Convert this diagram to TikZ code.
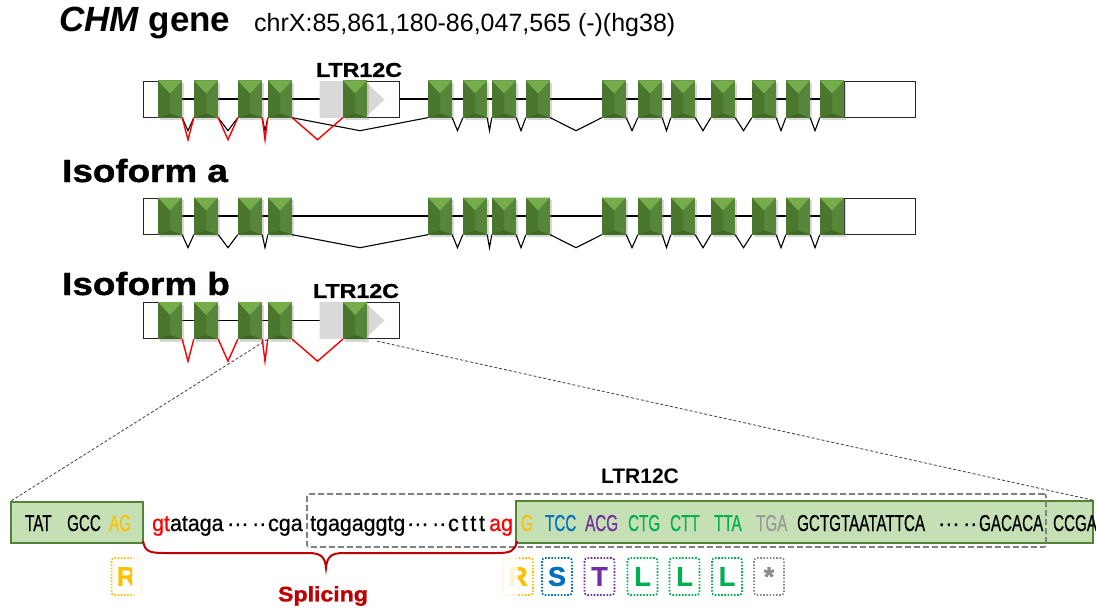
\documentclass[tikz,border=0pt]{standalone}
\usepackage{fontspec}
\setmainfont{Liberation Sans}
\newfontfamily\heavyfont{Liberation Sans}[BoldFeatures={FakeBold=1.2}]
\newfontfamily\seqfont{Liberation Sans}[FakeBold=0.7]
\usetikzlibrary{calc,shadows}
\pgfdeclarelayer{background}
\pgfsetlayers{background,main}

\definecolor{exmid}{HTML}{57863A}
\definecolor{exleft}{HTML}{4A772D}
\definecolor{exbottom}{HTML}{3E6724}
\definecolor{extop}{HTML}{74AD4A}
\definecolor{ltrgrey}{HTML}{D9D9D9}
\definecolor{seqfill}{HTML}{C5E0B4}
\definecolor{seqedge}{HTML}{548235}
\definecolor{aayellow}{HTML}{FFC000}
\definecolor{aablue}{HTML}{0070C0}
\definecolor{aapurple}{HTML}{7030A0}
\definecolor{aagreen}{HTML}{00B050}
\definecolor{aagrey}{HTML}{8C8C8C}
\definecolor{splred}{HTML}{C00000}

\newcommand\setfs[1]{\fontsize{#1}{#1}\selectfont}

\begin{document}
\begin{tikzpicture}[x=1pt, y=-1pt,
  utr/.style={draw=black!85, line width=0.9pt, fill=white, minimum height=36pt, inner sep=0pt},
  exon/.style={minimum width=24pt, minimum height=37pt, inner sep=0pt, fill=exmid,
    drop shadow={shadow xshift=1.5pt, shadow yshift=-2.5pt, opacity=0.3},
    path picture={
      \fill[exleft] (path picture bounding box.north west) -- ([yshift=-13pt]path picture bounding box.north)
        -- ([yshift=4pt]path picture bounding box.south) -- (path picture bounding box.south west) -- cycle;
      \fill[exbottom] (path picture bounding box.south west) -- ([yshift=4pt]path picture bounding box.south)
        -- (path picture bounding box.south east) -- cycle;
      \fill[extop] (path picture bounding box.north west) -- (path picture bounding box.north east)
        -- ([yshift=-13pt]path picture bounding box.north) -- cycle;
    }},
  intron/.style={line width=1.2pt, black},
  blackv/.style={line width=1.1pt, black},
  redv/.style={line width=1.4pt, red},
  rowtitle/.style={font=\heavyfont\bfseries\setfs{32}, anchor=base west, inner sep=0pt, xscale=1.15},
  ltrlab/.style={font=\heavyfont\bfseries\setfs{20}, inner sep=0pt, xscale=1.16},
  seqU/.style={font=\seqfont\setfs{23}, anchor=base west, inner sep=0pt, xscale=0.66},
  seqL/.style={font=\seqfont\setfs{23}, anchor=base west, inner sep=0pt, xscale=0.93},
  seqbox/.style={draw=seqedge, fill=seqfill, line width=1.3pt, inner sep=0pt},
  ltrframe/.style={draw=black!50, line width=1.6pt, dash pattern=on 6pt off 3pt, rounded corners=2pt, inner sep=0pt},
  zoomline/.style={draw=black!75, line width=0.8pt, dash pattern=on 3pt off 2pt},
  aabox/.style={draw=#1, line width=1.8pt, dash pattern=on 1.6pt off 1.6pt, rounded corners=3pt,
    minimum width=30pt, minimum height=37pt, inner sep=0pt, text=#1, font=\heavyfont\bfseries\setfs{27}},
]
\useasboundingbox (0,0) rectangle (1096,610);

% ---------- titles ----------
\node[anchor=base west, inner sep=0pt, font=\bfseries\setfs{35}] (title) at (59,32)
  {{\itshape CHM} gene};
\node[anchor=base west, inner sep=0pt, font=\setfs{25}] (locus) at (254,32)
  {chrX:85,861,180-86,047,565 (-)(hg38)};
\node[rowtitle] (isoA) at (62,182) {Isoform a};
\node[rowtitle] (isoB) at (62,295) {Isoform b};

% ---------- full gene ----------
\node[utr, minimum width=20pt] (r1L) at (153,99) {};
\node[utr, minimum width=71pt] (r1R) at (879.5,99) {};
\node[utr, minimum width=79pt] (r1ltr) at (359.5,99.5) {};
\fill[ltrgrey] (r1ltr.north west) -- ++(45,0) -- ($(r1ltr.west)+(65,0)$)
  -- ($(r1ltr.south west)+(45,0)$) -- (r1ltr.south west) -- cycle;
\node[ltrlab] (ltrA) at (359,70) {LTR12C};
\foreach \i/\x in {1/170,2/206,3/250,4/280,5/355,6/440,7/475,8/504,9/538,10/614,11/650,12/683,13/723,14/764,15/798,16/832}
  \node[exon] (r1e\i) at (\x,99) {};
\foreach \a/\b in {1/2,2/3,3/4,4/6,6/7,7/8,8/9,9/10,10/11,11/12,12/13,13/14,14/15,15/16}
  \draw[blackv] (r1e\a.south east) -- ($(r1e\a.south east)!0.5!(r1e\b.south west)+(0,13)$) -- (r1e\b.south west);
\foreach \a/\b in {1/2,2/3,3/4,4/5}
  \draw[redv] (r1e\a.south east) -- ($(r1e\a.south east)!0.5!(r1e\b.south west)+(0,22)$) -- (r1e\b.south west);

% ---------- isoform a ----------
\node[utr, minimum width=20pt] (r2L) at (153,216) {};
\node[utr, minimum width=71pt] (r2R) at (879.5,216) {};
\foreach \i/\x in {1/170,2/206,3/250,4/280,6/440,7/475,8/504,9/538,10/614,11/650,12/683,13/723,14/764,15/798,16/832}
  \node[exon] (r2e\i) at (\x,216) {};
\foreach \a/\b in {1/2,2/3,3/4,4/6,6/7,7/8,8/9,9/10,10/11,11/12,12/13,13/14,14/15,15/16}
  \draw[blackv] (r2e\a.south east) -- ($(r2e\a.south east)!0.5!(r2e\b.south west)+(0,13)$) -- (r2e\b.south west);

% ---------- isoform b ----------
\node[utr, minimum width=20pt] (r3L) at (153,320.5) {};
\node[utr, minimum width=79pt] (r3ltr) at (359.5,320.5) {};
\fill[ltrgrey] (r3ltr.north west) -- ++(45,0) -- ($(r3ltr.west)+(65,0)$)
  -- ($(r3ltr.south west)+(45,0)$) -- (r3ltr.south west) -- cycle;
\node[ltrlab] (ltrB) at (356,291) {LTR12C};
\foreach \i/\x in {1/170,2/206,3/250,4/280,5/355}
  \node[exon] (r3e\i) at (\x,320.5) {};
\foreach \a/\b in {1/2,2/3,3/4,4/5}
  \draw[redv] (r3e\a.south east) -- ($(r3e\a.south east)!0.5!(r3e\b.south west)+(0,22)$) -- (r3e\b.south west);

% ---------- sequence detail ----------
\node[seqbox, minimum width=132pt, minimum height=41pt] (seqA) at (77,522.5) {};
\node[seqbox, minimum width=577pt, minimum height=42pt] (seqB) at (804.5,522) {};
\node[ltrframe, minimum width=739pt, minimum height=53pt] (ltrFrame) at (676.5,520.5) {};
\node[font=\bfseries\setfs{21}, inner sep=0pt] (ltrC) at (640,476) {LTR12C};

\coordinate (zoomR) at ($(r3e5.south east)+(10,2)$);
\draw[zoomline] (r3e4.south west) -- (seqA.north west);
\draw[zoomline] (zoomR) -- (seqB.north east);

\node[seqU] (s1) at (25,531) {TAT};
\node[seqU] (s2) at (67,531) {GCC};
\node[seqU, text=aayellow] (s3) at (109,531) {AG};
\node[seqL] (s4) at (152,531) {{\color{red}gt}ataga};
\node[seqL] (s5) at (227,531) {···\,···};
\node[seqL] (s6) at (268,531) {cga};
\node[seqL] (s7) at (310,531) {tgagaggtg};
\node[seqL] (s8) at (407,531) {···\,···};
\node[seqL] (s9) at (448,531) {c\kern3pt t\kern3pt t\kern3pt t};
\node[seqL, text=red] (s10) at (489,531) {ag};
\node[seqU, text=aayellow] (c1) at (521,531) {G};
\node[seqU, text=aablue] (c2) at (545,531) {TCC};
\node[seqU, text=aapurple] (c3) at (585,531) {ACG};
\node[seqU, text=aagreen] (c4) at (628,531) {CTG};
\node[seqU, text=aagreen] (c5) at (670,531) {CTT};
\node[seqU, text=aagreen] (c6) at (714,531) {TTA};
\node[seqU, text=black!40] (c7) at (756,531) {TGA};
\node[seqU] (c8) at (797,531) {GCTGTAATATTCA};
\node[seqL] (c9) at (938,531) {···\,···};
\node[seqU] (c10) at (979,531) {GACACA};
\node[seqU] (c11) at (1053,531) {CCGA};

% splicing brace
\draw[splred, line width=2pt] (143,541) .. controls (145,552) and (150,553) .. (165,553)
  -- (308,553) .. controls (320,553) and (325,556) .. (326,568)
  .. controls (327,556) and (332,553) .. (344,553)
  -- (497,553) .. controls (511,553) and (515,551) .. (517,541);
\node[font=\heavyfont\bfseries\setfs{21}, text=splred, inner sep=0pt, xscale=1.1] (spl) at (323,596) {Splicing};

% amino acids
\node[aabox=aayellow] (aaR1) at (126.5,576.5) {R};
\fill[white, opacity=0.82] ($(aaR1.north east)+(-10,-2)$) rectangle ($(aaR1.south east)+(2,2)$);
\node[aabox=aayellow] (aaR2) at (518,576.5) {R};
\fill[white, opacity=0.82] ($(aaR2.north west)+(-2,-2)$) rectangle ($(aaR2.south west)+(16,2)$);
\node[aabox=aablue] (aaS) at (557,576.5) {S};
\node[aabox=aapurple] (aaT) at (599.5,576.5) {T};
\node[aabox=aagreen] (aaL1) at (642.5,576.5) {L};
\node[aabox=aagreen] (aaL2) at (684.5,576.5) {L};
\node[aabox=aagreen] (aaL3) at (727,576.5) {L};
\node[aabox=aagrey] (aaStop) at (769,576.5) {*};

% ---------- intron backbones ----------
\begin{pgfonlayer}{background}
  \fill[white] (0,0) rectangle (1096,610);
  \draw[intron] (r1L.center) -- (r1R.center);
  \draw[intron] (r2L.center) -- (r2R.center);
  \draw[intron] (r3L.center) -- (r3ltr.center);
\end{pgfonlayer}
\end{tikzpicture}
\end{document}
